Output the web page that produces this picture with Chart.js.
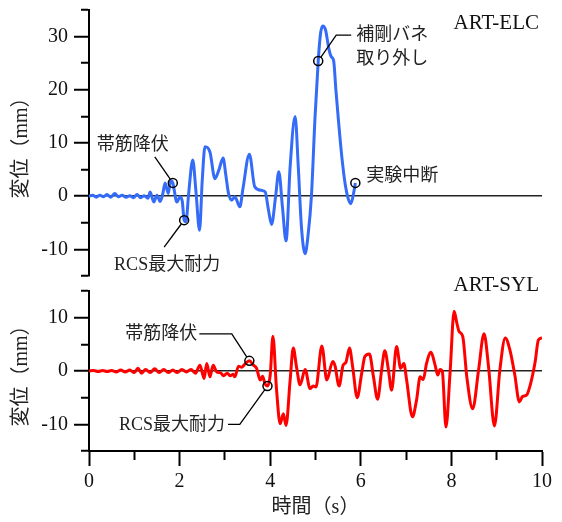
<!DOCTYPE html>
<html>
<head>
<meta charset="utf-8">
<script src="https://cdn.jsdelivr.net/npm/chart.js@4.4.1/dist/chart.umd.min.js"></script>
<style>
  html, body { margin: 0; padding: 0; background: #fff; }
  #wrap { position: relative; width: 562px; height: 522px; }
  #elc-chart { position: absolute; left: 0; top: 0; }
  #syl-chart { position: absolute; left: 0; top: 270px; }
</style>
</head>
<body>
<div id="wrap">
  <canvas id="elc-chart" width="562" height="285"></canvas>
  <canvas id="syl-chart" width="562" height="252"></canvas>
</div>
<script>
// ART-ELC: 変位の時刻歴 (s, mm)
const elcTime = [0, 0.08, 0.16, 0.24, 0.32, 0.40, 0.48, 0.57, 0.65, 0.73, 0.82, 0.90, 0.98, 1.06, 1.14, 1.22,
  1.30, 1.35, 1.43, 1.50, 1.57, 1.63, 1.68, 1.75, 1.80, 1.85, 1.94, 2.01, 2.06, 2.10, 2.14, 2.20, 2.29, 2.36,
  2.44, 2.50, 2.56, 2.67, 2.78, 2.87, 2.96, 3.02, 3.08, 3.15, 3.22, 3.33, 3.40, 3.54, 3.66, 3.81, 3.89, 3.96,
  4.03, 4.12, 4.19, 4.27, 4.35, 4.44, 4.55, 4.62, 4.69, 4.77, 4.84, 4.91, 4.99, 5.06, 5.11, 5.16, 5.22, 5.30,
  5.35, 5.40, 5.45, 5.50, 5.58, 5.66, 5.72, 5.78, 5.84, 5.88];
const elcDisp = [0, 0.2, -0.2, 0.2, -0.1, 0.3, -0.2, 0.5, -0.1, 0.2, -0.2, 0.1, -0.3, 0.3, -0.3, 0.1,
  -0.4, 0.8, -1.1, 0.2, -1.0, 0.5, 2.5, 0.5, 2.9, 2.5, -1.1, -0.1, -1.0, -4.5, -4.8, 0.5, 6.8, 1.0,
  -6.4, 3.0, 9.3, 8.3, 3.3, 5.0, 7.2, 4.0, 0.5, -0.75, -0.1, -2.0, 1.5, 7.9, 1.75, 1.1, 0.8, -2.5,
  -5.3, 0.0, 4.6, -2.0, -8.4, 5.5, 15.0, 5.5, -5.8, -10.8, -7.0, 0.0, 14.9, 25.4, 30.5, 32.0, 31.3, 27.5,
  26.2, 25.5, 20.0, 14.9, 7.5, 2.0, -0.4, -1.4, 0.5, 2.5];
const elcTicks = [-15, -10, -5, 0, 5, 10, 15, 20, 25, 30, 35];
const elcEventNames = ['帯筋降伏', 'RCS最大耐力', '補剛バネ\n取り外し', '実験中断'];
const elcEventTimes = [1.85, 2.10, 5.06, 5.88];

// ART-SYL: 変位の時刻歴 (s, mm)
const sylTime = [0, 0.10, 0.20, 0.30, 0.40, 0.50, 0.60, 0.70, 0.80, 0.90, 1.00, 1.08, 1.16, 1.25, 1.35, 1.45,
  1.55, 1.65, 1.75, 1.85, 1.95, 2.05, 2.15, 2.25, 2.35, 2.45, 2.54, 2.60, 2.67, 2.74, 2.82, 2.90, 2.97, 3.05,
  3.12, 3.18, 3.22, 3.30, 3.37, 3.44, 3.54, 3.63, 3.70, 3.78, 3.83, 3.89, 3.94, 4.00, 4.06, 4.14, 4.22, 4.29,
  4.35, 4.44, 4.51, 4.58, 4.66, 4.77, 4.88, 4.95, 5.01, 5.14, 5.25, 5.38, 5.43, 5.52, 5.61, 5.67, 5.75, 5.82,
  5.92, 6.02, 6.09, 6.19, 6.28, 6.37, 6.46, 6.53, 6.61, 6.68, 6.79, 6.88, 6.95, 7.01, 7.14, 7.23, 7.31, 7.38,
  7.45, 7.55, 7.64, 7.70, 7.75, 7.80, 7.88, 7.97, 8.06, 8.12, 8.17, 8.25, 8.34, 8.47, 8.60, 8.72, 8.82, 8.95,
  9.07, 9.19, 9.29, 9.40, 9.50, 9.57, 9.66, 9.75, 9.85, 9.92, 10.00];
const sylDisp = [0, 0.1, -0.1, 0.1, -0.1, 0.1, -0.2, 0.2, -0.2, 0.2, -0.3, 0.5, -0.4, 0.3, -0.3, 0.4,
  -0.3, 0.3, -0.3, 0.2, -0.3, 0.3, -0.2, 0.3, -0.4, 1.1, -1.4, 1.4, -1.1, 1.1, -0.2, -0.3, -0.9, -0.4,
  -0.9, -0.6, -1.1, 0.9, 0.7, 1.3, 1.9, 1.1, 0.5, -1.7, -1.0, -2.5, -2.8, -0.8, 6.5, -3.5, -9.9, -8.0,
  -10.2, -1.7, 4.3, 0.8, -2.6, 0.3, -3.3, -2.8, -3.0, 4.7, -1.7, 1.8, 1.0, -2.8, 1.1, 1.6, 4.3, 0.8,
  -5.0, -0.4, 2.7, 3.2, -1.1, -5.3, 0.2, 3.8, 0.2, -3.6, 4.6, 0.5, 1.4, -1.6, -8.6, -5.5, -1.1, -1.6,
  1.4, 3.5, 1.1, -0.75, 0.3, -0.1, -10.5, -0.4, 11.2, 9.0, 7.4, 6.5, -1.1, -7.1, 0.2, 7.0, 0.8, -10.3,
  0.2, 6.2, 4.0, -0.75, -5.8, -4.8, -4.5, -2.3, 1.8, 5.8, 6.2];
const sylTicks = [-15, -10, -5, 0, 5, 10, 15];
const sylEventNames = ['帯筋降伏', 'RCS最大耐力'];
const sylEventTimes = [3.54, 3.94];

// 時間軸の目盛 (s)
const timeTicks = [0, 1, 2, 3, 4, 5, 6, 7, 8, 9, 10];

const FONT = "'Liberation Serif', 'Noto Sans CJK JP', serif";
const MARK_R = 4.5;

// 注記の位置 (マーカーからのピクセルオフセット)
const elcPlace = [
  { tx: -40, ty: -38, align: 'center', path: [[-18, -26]] },
  { tx: -17, ty: 45, align: 'center', path: [[-20, 27]] },
  { tx: 38, ty: -26, align: 'left', path: [[33, -26], [18, -26]] },
  { tx: 11, ty: -7, align: 'left' }
];
const sylPlace = [
  { tx: -52, ty: -27, align: 'right', path: [[-50, -27], [-17.6, -27]] },
  { tx: -42.5, ty: 39, align: 'right', path: [[-39.5, 38.5], [-27.7, 38.5]] }
];

function toPoints(xs, ys) {
  return xs.map((x, i) => ({ x: x, y: ys[i] }));
}

function events(names, times, xs, ys) {
  return names.map((name, i) => ({ label: name, t: times[i], v: ys[xs.indexOf(times[i])] }));
}

// パネル名、注記テキスト、引出線
function notePlugin(name, nameDy, evs, place) {
  return {
    id: 'notes',
    afterDatasetsDraw(chart) {
      const { ctx, chartArea, scales } = chart;
      ctx.save();
      ctx.fillStyle = '#111';
      ctx.textBaseline = 'middle';
      ctx.textAlign = 'right';
      ctx.font = '21px ' + FONT;
      ctx.fillText(name, chartArea.right - 3, chartArea.top + nameDy);

      ctx.font = '18px ' + FONT;
      ctx.fillStyle = '#222';
      ctx.strokeStyle = '#000';
      ctx.lineWidth = 1.3;
      evs.forEach((ev, i) => {
        const p = place[i];
        const px = scales.x.getPixelForValue(ev.t);
        const py = scales.y.getPixelForValue(ev.v);
        if (p.path) {
          ctx.beginPath();
          p.path.forEach(([dx, dy], k) => {
            if (k === 0) ctx.moveTo(px + dx, py + dy);
            else ctx.lineTo(px + dx, py + dy);
          });
          const [lx, ly] = p.path[p.path.length - 1];
          const d = Math.hypot(lx, ly);
          ctx.lineTo(px + lx / d * MARK_R, py + ly / d * MARK_R);
          ctx.stroke();
        }
        ctx.textAlign = p.align;
        ev.label.split('\n').forEach((s, k) => {
          ctx.fillText(s, px + p.tx, py + p.ty + k * 24);
        });
      });
      ctx.restore();
    }
  };
}

function buildChart(canvasId, o) {
  const evs = events(o.eventNames, o.eventTimes, o.time, o.disp);
  return new Chart(document.getElementById(canvasId), {
    type: 'line',
    data: {
      datasets: [{
        data: evs.map(e => ({ x: e.t, y: e.v })),
        showLine: false,
        pointRadius: MARK_R,
        pointBorderWidth: 1.5,
        pointBorderColor: '#000',
        pointBackgroundColor: 'rgba(0,0,0,0)',
        order: 0
      }, {
        data: toPoints(o.time, o.disp),
        borderColor: o.color,
        borderWidth: 3,
        pointRadius: 0,
        cubicInterpolationMode: 'monotone',
        fill: false,
        order: 1
      }]
    },
    options: {
      responsive: false,
      animation: false,
      layout: { padding: o.padding },
      plugins: { legend: { display: false }, tooltip: { enabled: false } },
      scales: {
        x: {
          type: 'linear',
          min: 0,
          max: 10,
          display: o.showX,
          border: { display: true, color: '#000', width: 2 },
          grid: {
            drawOnChartArea: false,
            color: '#000',
            tickColor: '#000',
            tickWidth: 2,
            tickLength: 15,
            // 奇数秒は短い目盛
            tickBorderDash: (c) => (c.tick && c.tick.value % 2 === 0) ? [] : [8, 7]
          },
          ticks: {
            autoSkip: false,
            maxRotation: 0,
            padding: 4,
            color: '#111',
            font: { family: FONT, size: 20 },
            callback: (v) => v % 2 === 0 ? v : ''
          },
          title: {
            display: true,
            text: '時間（s）',
            color: '#222',
            font: { family: FONT, size: 20 },
            padding: { top: 0, bottom: 2 }
          },
          afterBuildTicks: (axis) => {
            axis.ticks = timeTicks.map(v => ({ value: v }));
          },
          afterFit: (axis) => {
            if (o.showX) axis.height = 71;
            axis.paddingLeft = 0;
            axis.paddingRight = 0;
          }
        },
        y: {
          min: o.yMin,
          max: o.yMax,
          border: { display: true, color: '#000', width: 2 },
          grid: {
            color: (c) => (c.tick && c.tick.value === 0) ? '#222' : 'rgba(0,0,0,0)',
            lineWidth: 1.5,
            tickColor: '#000',
            tickWidth: 2,
            tickLength: 15,
            // 10mmごとに長い目盛、その間は短い目盛
            tickBorderDash: (c) => (c.tick && c.tick.value % 10 === 0) ? [] : [8, 7],
            tickBorderDashOffset: (c) => (c.tick && c.tick.value % 10 === 0) ? 0 : 8
          },
          ticks: {
            autoSkip: false,
            padding: 6,
            color: '#111',
            font: { family: FONT, size: 20 },
            callback: (v) => v % 10 === 0 ? v : ''
          },
          title: {
            display: true,
            text: '変位（mm）',
            color: '#222',
            font: { family: FONT, size: 20 },
            padding: { top: 10, bottom: 0 }
          },
          afterBuildTicks: (axis) => {
            axis.ticks = o.yTicks.map(v => ({ value: v }));
          },
          afterFit: (axis) => {
            axis.width = 89;
            axis.paddingTop = 0;
            axis.paddingBottom = 0;
          }
        }
      }
    },
    plugins: [notePlugin(o.name, o.nameDy, evs, o.place)]
  });
}

window.elcChart = buildChart('elc-chart', {
  time: elcTime, disp: elcDisp, yTicks: elcTicks,
  eventNames: elcEventNames, eventTimes: elcEventTimes, place: elcPlace,
  name: 'ART-ELC', nameDy: 13,
  color: 'rgb(52,108,248)',
  yMin: -15, yMax: 35,
  showX: false,
  padding: { top: 10, right: 20, bottom: 9, left: 0 }
});

window.sylChart = buildChart('syl-chart', {
  time: sylTime, disp: sylDisp, yTicks: sylTicks,
  eventNames: sylEventNames, eventTimes: sylEventTimes, place: sylPlace,
  name: 'ART-SYL', nameDy: -6,
  color: '#ff0000',
  yMin: -15, yMax: 15,
  showX: true,
  padding: { top: 21, right: 20, bottom: 0, left: 0 }
});
</script>
</body>
</html>
